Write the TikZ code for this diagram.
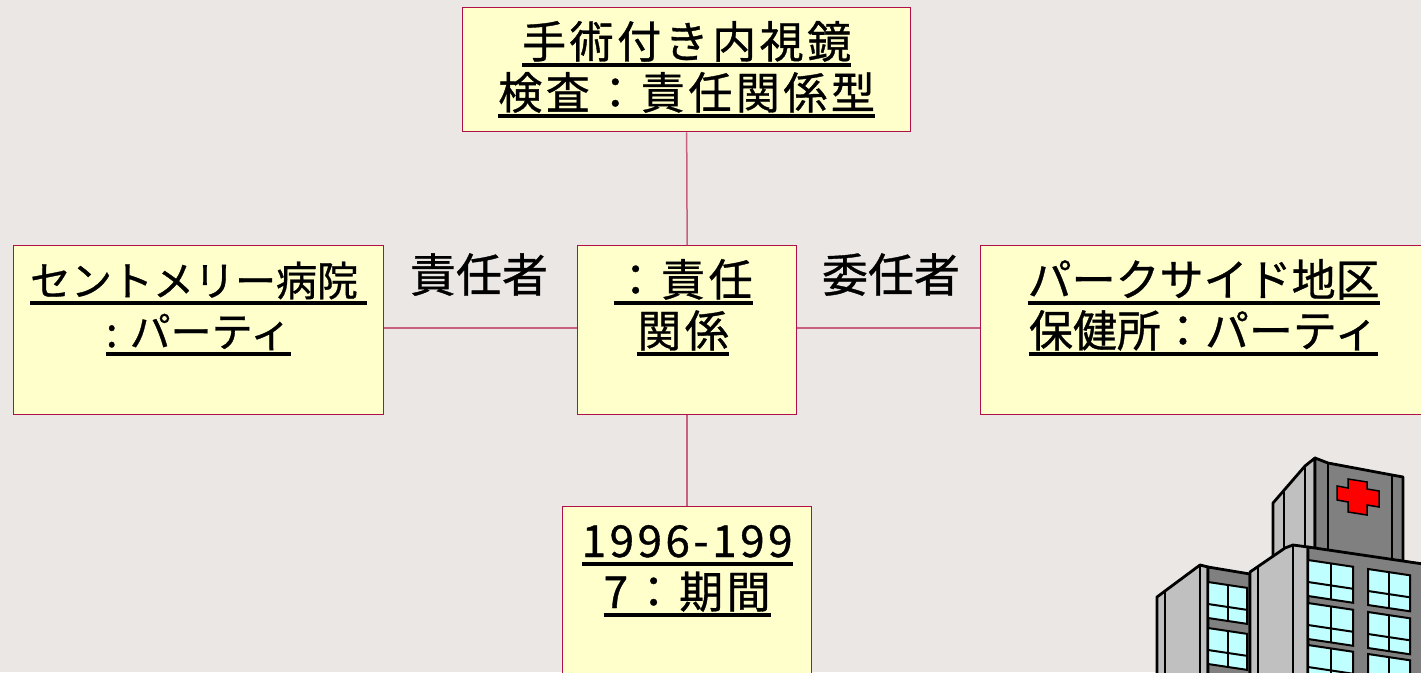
\documentclass[tikz,border=0pt]{standalone}
\usepackage{fontspec}
\newfontfamily\cjk[FakeBold=0.8]{Noto Sans CJK JP}
\newfontfamily\cjkw[LetterSpace=8,FakeBold=0.8]{Noto Sans CJK JP}
\usetikzlibrary{positioning}
\definecolor{bgc}{HTML}{EBE7E4}
\definecolor{boxfill}{HTML}{FFFFCC}
\definecolor{boxline}{HTML}{B01048}
\definecolor{linkc}{HTML}{C86080}
\definecolor{grayL}{HTML}{C0C0C0}
\definecolor{grayM}{HTML}{808080}
\definecolor{winc}{HTML}{C0FFFF}
\newcommand\uln[1]{\setbox0\hbox{#1}\leavevmode\rlap{\vrule height -5pt depth 8.5pt width \wd0}\box0}
\newcommand\win[3]{%
  \filldraw[winpane] (#1,#2) -- ++(#3,0.15*#3) -- ++(0,36) -- ++(-#3,-0.15*#3) -- cycle;
  \draw[winbar] (#1+#3/2,#2+0.075*#3) -- ++(0,36);
  \draw[winbar] (#1,#2+22) -- ++(#3,0.15*#3);}
\begin{document}
\begin{tikzpicture}[x=1pt, y=-1pt,
    objbox/.style={draw=boxline, fill=boxfill, line width=1.3pt, rectangle, inner sep=0pt, anchor=north west},
    objtext/.style={align=center, inner sep=0pt, anchor=base},
    link/.style={draw=linkc, line width=1.5pt},
    rolelbl/.style={font=\cjk\fontsize{46}{50}\selectfont, inner sep=0pt, anchor=base},
    bldg/.style={draw=black, line width=2.8pt, line join=round},
    winpane/.style={draw=black, line width=2pt, fill=winc},
    winbar/.style={draw=black, line width=2pt}]
\useasboundingbox (0,0) rectangle (1421,672);
\fill[bgc] (0,0) rectangle (1421,672);

\node[objbox, minimum width=448pt, minimum height=124pt] (rtype) at (462,7) {};
\node[objbox, minimum width=219pt, minimum height=169pt] (resp) at (577,245) {};
\node[objbox, minimum width=370pt, minimum height=169pt] (party1) at (13,245) {};
\node[objbox, minimum width=470pt, minimum height=169pt] (party2) at (980,245) {};
\node[objbox, minimum width=249pt, minimum height=190pt] (period) at (562,506) {};

\node[objtext, font=\cjkw\fontsize{44}{51}\selectfont] (rtypetxt) at ([yshift=-102pt]rtype.north) {\uln{手術付き内視鏡}\\\uln{検査：責任関係型}};
\node[objtext, font=\cjkw\fontsize{44}{51}\selectfont] (resptxt) at ([yshift=-102pt,xshift=-4pt]resp.north) {\uln{：責任}\\\uln{関係}};
\node[objtext, font=\cjk\fontsize{41}{51}\selectfont] (party1txt) at ([yshift=-102pt]party1.north) {\uln{セントメリー病院\ }\\\uln{: パーティ}};
\node[objtext, font=\cjk\fontsize{44}{51}\selectfont] (party2txt) at ([yshift=-102pt,xshift=-12pt]party2.north) {\uln{パークサイド地区}\\\uln{保健所：パーティ}};
\node[objtext, font=\cjkw\fontsize{44}{51}\selectfont] (periodtxt) at ([yshift=-102pt]period.north) {\uln{1996-199}\\\uln{7：期間}};

\draw[link] (rtype.south) -- (resp.north);
\draw[link] (resp.south) -- (period.north);
\draw[link] ([yshift=2pt]party1.east) -- ([yshift=2pt]resp.west);
\draw[link] ([yshift=2pt]resp.east) -- ([yshift=2pt]party2.west);

\node[rolelbl] (lblresp) at (479,292) {責任者};
\node[rolelbl] (lbldeleg) at (891,292) {委任者};

% hospital
\filldraw[bldg, fill=grayL] (1273,503) -- (1305,466) -- (1315,458) -- (1315,565) -- (1273,565) -- cycle;
\filldraw[bldg, fill=grayM] (1315,458) -- (1328,463) -- (1392,475) -- (1403,477) -- (1403,565) -- (1315,565) -- cycle;
\draw[bldg, line width=2pt] (1284,492) -- (1284,560) (1305,466) -- (1305,560) (1328,463) -- (1328,560) (1392,475) -- (1392,560);
\filldraw[draw=black, line width=1.5pt, fill=red] (1348,479) -- (1367,482) -- (1367,489) -- (1379,491) -- (1379,507) -- (1367,505) -- (1367,515) -- (1348,512) -- (1348,502) -- (1337,500) -- (1337,486) -- (1348,488) -- cycle;

\filldraw[bldg, fill=grayL] (1157,597) -- (1165,591) -- (1200,565) -- (1208,567) -- (1208,690) -- (1157,690) -- cycle;
\filldraw[bldg, fill=grayM] (1208,567) -- (1250,574) -- (1250,690) -- (1208,690) -- cycle;
\draw[bldg, line width=2pt] (1165,591) -- (1165,690) (1200,565) -- (1200,690);
\win{1208}{582}{39}
\win{1208}{628}{39}

\filldraw[bldg, fill=grayL] (1250,572) -- (1285,548) -- (1293,545) -- (1308,547) -- (1308,690) -- (1250,690) -- cycle;
\filldraw[bldg, fill=grayM] (1308,547) -- (1430,565) -- (1430,690) -- (1308,690) -- cycle;
\draw[bldg, line width=2pt] (1258,567) -- (1258,690) (1293,545) -- (1293,690);
\win{1308}{560}{45}
\win{1308}{603}{45}
\win{1308}{645}{45}
\win{1368}{569}{42}
\win{1368}{612}{42}
\win{1368}{654}{42}
\end{tikzpicture}
\end{document}
